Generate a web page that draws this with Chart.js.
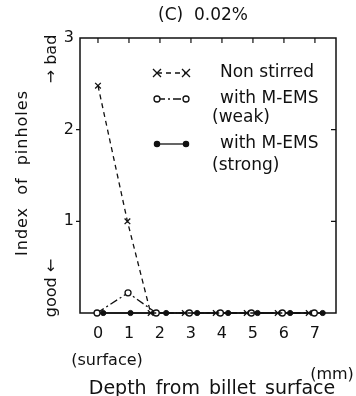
<!DOCTYPE html>
<html>
<head>
<meta charset="utf-8">
<script src="https://cdn.jsdelivr.net/npm/chart.js@4/dist/chart.umd.min.js"></script>
<style>
  html, body { margin: 0; padding: 0; background: #fff; }
  #wrap { width: 356px; height: 396px; }
</style>
</head>
<body>
<div id="wrap"><canvas id="c" width="356" height="396"></canvas></div>
<script>
// depth ticks (mm) and index ticks
const xTicks = [0, 1, 2, 3, 4, 5, 6, 7];
const yTicks = [1, 2, 3];

// series (x positions as plotted, markers are shifted a bit so they don't overlap)
const nonStirredX = [0, 0.95, 1.7, 2.8, 3.8, 4.8, 5.8, 6.8];
const nonStirredY = [2.48, 1.0, 0, 0, 0, 0, 0, 0];
const weakX = [-0.03, 0.97, 1.88, 2.95, 3.95, 4.95, 5.95, 6.98];
const weakY = [0, 0.22, 0, 0, 0, 0, 0, 0];
const strongX = [0.17, 1.05, 2.2, 3.2, 4.2, 5.15, 6.2, 7.25];
const strongY = [0, 0, 0, 0, 0, 0, 0, 0];

const seriesNames = [['Non stirred'], ['with M-EMS', '(weak)'], ['with M-EMS', '(strong)']];

const FONT = '"DejaVu Sans", sans-serif';
const INK = '#111';

function pts(xs, ys) { return xs.map((x, i) => ({ x: x, y: ys[i] })); }

function vText(ctx, txt, x, y) {
  ctx.save();
  ctx.translate(x, y);
  ctx.rotate(-Math.PI / 2);
  ctx.textAlign = 'center';
  ctx.textBaseline = 'middle';
  ctx.fillText(txt, 0, 0);
  ctx.restore();
}

// draws the frame, inner ticks, legend and all free text
const decorations = {
  id: 'decorations',
  beforeDatasetsDraw(chart) {
    const { ctx, chartArea: a, scales } = chart;
    ctx.save();
    ctx.strokeStyle = INK;
    ctx.lineWidth = 1.5;
    ctx.strokeRect(a.left, a.top, a.right - a.left, a.bottom - a.top);
    ctx.lineWidth = 1.2;
    ctx.beginPath();
    xTicks.forEach(v => {
      const px = scales.x.getPixelForValue(v);
      ctx.moveTo(px, a.top); ctx.lineTo(px, a.top + 5);
    });
    [1, 2].forEach(v => {
      const py = scales.y.getPixelForValue(v);
      ctx.moveTo(a.left - 4, py); ctx.lineTo(a.left, py);
      ctx.moveTo(a.right, py); ctx.lineTo(a.right - 5, py);
    });
    ctx.stroke();
    ctx.restore();
  },
  afterDraw(chart) {
    const { ctx } = chart;
    ctx.save();
    ctx.fillStyle = INK;
    ctx.strokeStyle = INK;

    // title
    ctx.font = '17px ' + FONT;
    ctx.textAlign = 'center';
    ctx.textBaseline = 'middle';
    ctx.fillText('(C)  0.02%', 203, 16);

    // legend
    const rows = [
      { y: 73, sub: null },
      { y: 99, sub: 118 },
      { y: 144, sub: 166 }
    ];
    chart.data.datasets.forEach((ds, i) => {
      const r = rows[i];
      ctx.save();
      ctx.lineWidth = ds.borderWidth;
      ctx.setLineDash(ds.borderDash || []);
      ctx.beginPath();
      ctx.moveTo(157, r.y); ctx.lineTo(186, r.y);
      ctx.stroke();
      ctx.restore();
      [157, 186].forEach(px => drawMark(ctx, ds, px, r.y));
      ctx.font = '17px ' + FONT;
      ctx.textAlign = 'left';
      ctx.fillText(seriesNames[i][0], 220, r.y);
      if (seriesNames[i][1]) ctx.fillText(seriesNames[i][1], 212, r.sub);
    });

    // y axis title
    ctx.font = '16px ' + FONT;
    ctx.save();
    ctx.wordSpacing = '6px';
    ctx.letterSpacing = '1px';
    vText(ctx, 'Index of pinholes', 23, 173);
    ctx.restore();
    vText(ctx, '\u2192 bad', 52, 59);
    vText(ctx, 'good \u2190', 52, 288);

    // x axis texts
    ctx.textAlign = 'center';
    ctx.font = '16px ' + FONT;
    ctx.fillText('(surface)', 107, 361);
    ctx.fillText('(mm)', 332, 375);
    ctx.font = '19px ' + FONT;
    ctx.wordSpacing = '3px';
    ctx.fillText('Depth from billet surface', 212, 389);
    ctx.restore();
  }
};

function drawMark(ctx, ds, x, y) {
  const r = ds.pointRadius;
  ctx.save();
  ctx.lineWidth = 1.3;
  ctx.setLineDash([]);
  ctx.beginPath();
  if (ds.pointStyle === 'crossRot') {
    ctx.moveTo(x - r, y - r); ctx.lineTo(x + r, y + r);
    ctx.moveTo(x + r, y - r); ctx.lineTo(x - r, y + r);
    ctx.stroke();
  } else {
    ctx.arc(x, y, r, 0, Math.PI * 2);
    ctx.fillStyle = ds.pointBackgroundColor;
    ctx.fill();
    ctx.stroke();
  }
  ctx.restore();
}

new Chart(document.getElementById('c'), {
  type: 'scatter',
  data: {
    datasets: [
      { label: 'Non stirred', data: pts(nonStirredX, nonStirredY), showLine: true,
        borderColor: INK, borderWidth: 1.3, borderDash: [5, 4], pointStyle: 'crossRot',
        pointRadius: 4, pointBorderWidth: 1.3, pointBorderColor: INK, pointBackgroundColor: INK },
      { label: 'with M-EMS (weak)', data: pts(weakX, weakY), showLine: true,
        borderColor: INK, borderWidth: 1.3, borderDash: [8, 3, 2, 3], pointStyle: 'circle',
        pointRadius: 3, pointBorderWidth: 1.3, pointBorderColor: INK, pointBackgroundColor: '#fff' },
      { label: 'with M-EMS (strong)', data: pts(strongX, strongY), showLine: true,
        borderColor: INK, borderWidth: 1.3, pointStyle: 'circle',
        pointRadius: 2.6, pointBorderWidth: 1, pointBorderColor: INK, pointBackgroundColor: INK }
    ]
  },
  options: {
    responsive: false,
    animation: false,
    devicePixelRatio: 1,
    clip: false,
    layout: { padding: { top: 38, right: 20, left: 0, bottom: 0 } },
    plugins: { legend: { display: false }, title: { display: false }, tooltip: { enabled: false } },
    scales: {
      x: {
        type: 'linear', min: -0.58, max: 7.68,
        afterBuildTicks: s => { s.ticks = xTicks.map(v => ({ value: v })); },
        afterFit: s => { s.height = 83; },
        grid: { display: false, drawTicks: false },
        border: { display: false },
        ticks: { color: INK, font: { family: FONT, size: 16 }, padding: 11, maxRotation: 0 }
      },
      y: {
        type: 'linear', min: 0, max: 3,
        afterBuildTicks: s => { s.ticks = yTicks.map(v => ({ value: v })); },
        afterFit: s => { s.width = 80; },
        grid: { display: false, drawTicks: false },
        border: { display: false },
        ticks: { color: INK, font: { family: FONT, size: 16 }, padding: 6 }
      }
    }
  },
  plugins: [decorations]
});
</script>
</body>
</html>
